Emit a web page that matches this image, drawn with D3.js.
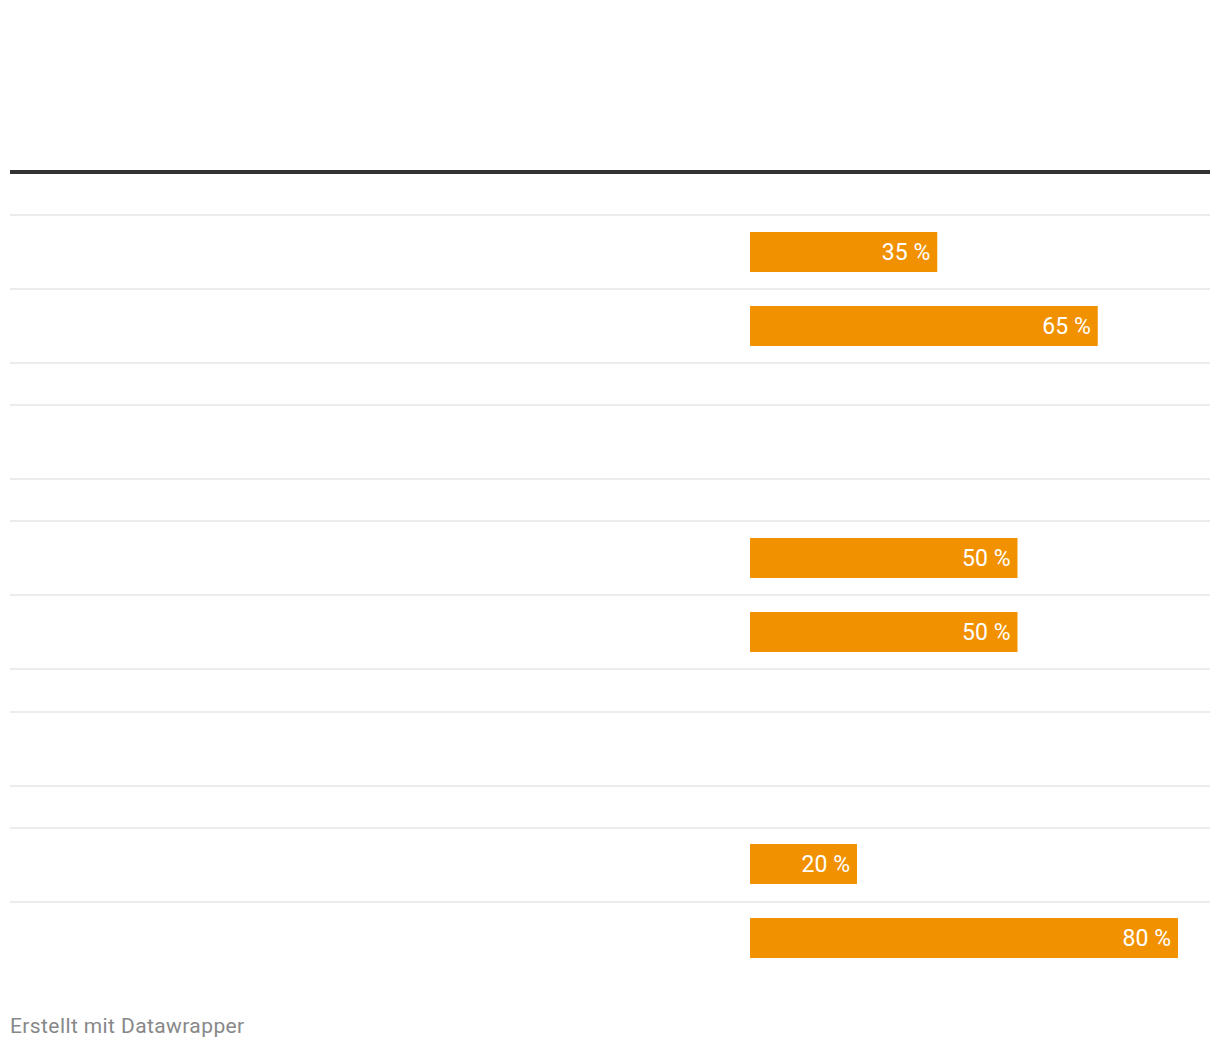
<!DOCTYPE html>
<html>
<head>
<meta charset="utf-8">
<script src="https://cdn.jsdelivr.net/npm/d3@7"></script>
<style>
  html, body { margin: 0; padding: 0; background: #fff; }
  svg { display: block; font-family: Roboto, "Noto Sans", sans-serif; }
</style>
</head>
<body>
<svg id="chart" width="1220" height="1050"></svg>
<script>
// ---- data ----
const rowLabels = ["", "", "", "", "", "", "", "", "", "", "", ""];
const rowKinds  = ["tall", "tall", "short", "tall", "short", "tall", "tall", "short", "tall", "short", "tall", "tall"];
const shares    = [35, 65, null, null, null, 50, 50, null, null, null, 20, 80];
const footerText = "Erstellt mit Datawrapper";

// ---- layout ----
const left = 10, right = 1210;
const headerLineY = 172;      // thick rule
const bodyTop = 214;
const tallH = 74, shortH = 42.2;
const barX0 = 750, barX1 = 1178;
const barH = 40;

const svg = d3.select("#chart");

const rows = rowKinds.map((k, i) => ({ kind: k, label: rowLabels[i], value: shares[i] }));
const heights = rows.map(r => r.kind === "tall" ? tallH : shortH);
const tops = [bodyTop, ...Array.from(d3.cumsum(heights)).map(c => bodyTop + c)];
rows.forEach((r, i) => { r.y0 = tops[i]; r.h = heights[i]; });

const x = d3.scaleLinear().domain([0, d3.max(shares)]).range([barX0, barX1]);

// thick header rule
svg.append("line")
  .attr("x1", left).attr("x2", right)
  .attr("y1", headerLineY).attr("y2", headerLineY)
  .attr("stroke", "#333").attr("stroke-width", 4);

// row separators (top of each row)
svg.append("g").selectAll("line")
  .data(rows)
  .join("line")
  .attr("x1", left).attr("x2", right)
  .attr("y1", d => Math.round(d.y0) + 1).attr("y2", d => Math.round(d.y0) + 1)
  .attr("stroke", "#ececec").attr("stroke-width", 2);

// row labels (empty in source)
svg.append("g").selectAll("text")
  .data(rows)
  .join("text")
  .attr("x", left)
  .attr("y", d => d.y0 + d.h / 2 + 7)
  .attr("font-size", 20)
  .attr("fill", "#333")
  .text(d => d.label);

const withBars = rows.filter(r => r.value != null);
const barTop = d => Math.round(d.y0 + 17.5);

const g = svg.append("g");
g.selectAll("rect")
  .data(withBars)
  .join("rect")
  .attr("x", x(0))
  .attr("y", barTop)
  .attr("width", d => x(d.value) - x(0))
  .attr("height", barH)
  .attr("fill", "#f29100");

g.selectAll("text")
  .data(withBars)
  .join("text")
  .attr("x", d => x(d.value) - 7)
  .attr("y", d => barTop(d) + 28)
  .attr("text-anchor", "end")
  .attr("font-size", 23)
  .attr("fill", "#fff")
  .text(d => d.value + " %");

// footer
svg.append("text")
  .attr("x", left)
  .attr("y", 1033)
  .attr("font-size", 21)
  .attr("letter-spacing", 0.4)
  .attr("fill", "#888")
  .text(footerText);
</script>
</body>
</html>
